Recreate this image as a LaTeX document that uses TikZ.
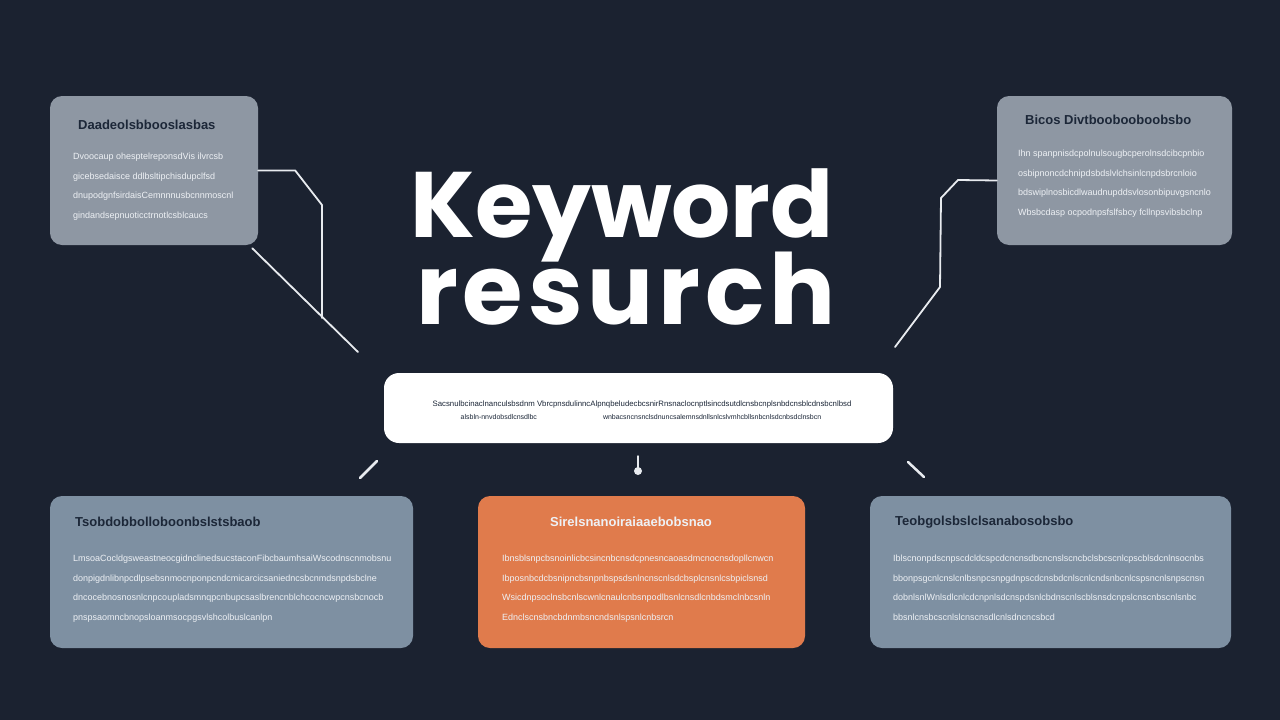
\documentclass[tikz,border=0pt]{standalone}
\usepackage{fontspec}
\setmainfont{Liberation Sans}
\newfontfamily\titlefont{Poppins}
\newfontfamily\titlewide{Poppins}[LetterSpace=5]

\definecolor{bgnavy}{HTML}{1B2230}
\definecolor{cardgray}{HTML}{8E97A3}
\definecolor{cardblue}{HTML}{7E90A2}
\definecolor{cardorange}{HTML}{E07B4C}
\definecolor{headnavy}{HTML}{1C2738}
\definecolor{bodywhite}{HTML}{EEF1F5}
\definecolor{wirewhite}{HTML}{E8EBEF}

\begin{document}
\begin{tikzpicture}
[
  x=1pt, y=-1pt,
  card/.style = {draw=none, rounded corners=12pt, inner sep=0pt},
  gcard/.style = {card, fill=cardgray, minimum height=149pt},
  bcard/.style = {card, fill=cardblue, minimum height=152pt},
  head/.style = {anchor=west, inner sep=0pt, font=\bfseries\fontsize{13}{15}\selectfont, text=headnavy},
  body/.style = {anchor=north west, inner sep=0pt, align=left, font=\fontsize{9}{19.6}\selectfont, text=bodywhite},
  wire/.style = {draw=wirewhite, line width=1.8pt, line join=round, line cap=round},
]
\def\topy{170.5}
\def\boty{572}

%background
\fill[bgnavy] (0,0) rectangle (1280,720);
\useasboundingbox (0,0) rectangle (1280,720);

%title
\node[anchor=base, inner sep=0pt, text=white, font=\titlefont\bfseries\fontsize{93}{93}\selectfont] (kw) at (622,237) {Keyword};
\node[anchor=base, inner sep=0pt, text=white, font=\titlewide\bfseries\fontsize{98}{98}\selectfont] (rs) at (626,324) {resurch};

%top cards
\node[gcard, minimum width=208pt] (tl) at (154,\topy) {};
\node[gcard, minimum width=235pt] (tr) at (1114.5,\topy) {};
\node[head] (tlhead) at (78,125) {Daadeolsbbooslasbas};
\node[body] (tlbody) at (73,153) {Dvoocaup ohesptelreponsdVis ilvrcsb\\gicebsedaisce ddlbsltipchisdupclfsd\\dnupodgnfsirdaisCemnnnusbcnnmoscnl\\gindandsepnuoticctrnotlcsblcaucs};
\node[head] (trhead) at (1025,120) {Bicos Divtboobooboobsbo};
\node[body] (trbody) at (1018,150) {Ihn spanpnisdcpolnulsougbcperolnsdcibcpnbio\\osbipnoncdchnipdsbdslvlchsinlcnpdsbrcnloio\\bdswiplnosbicdlwaudnupddsvlosonbipuvgsncnlo\\Wbsbcdasp ocpodnpsfslfsbcy fcllnpsvibsbclnp};

%middle card
\node[card, fill=white, rounded corners=15pt, minimum width=509pt, minimum height=70pt] (mid) at (638.5,408) {};
\node[inner sep=0pt, text=headnavy, font=\fontsize{7.8}{9}\selectfont] (midone) at (642,404) {Sacsnulbcinaclnanculsbsdnm VbrcpnsdulinncAlpnqbeludecbcsnirRnsnaclocnptlsincdsutdlcnsbcnplsnbdcnsblcdnsbcnlbsd};
\node[inner sep=0pt, text=headnavy, font=\fontsize{7}{8}\selectfont] (midtwo) at (641,417) {alsbln-nnvdobsdlcnsdlbc\hspace{66pt}wnbacsncnsnclsdnuncsalemnsdnllsnlcslvmhcbllsnbcnlsdcnbsdclnsbcn};

%bottom cards
\node[bcard, minimum width=363pt] (bl) at (231.5,\boty) {};
\node[card, fill=cardorange, minimum width=327pt, minimum height=152pt] (bm) at (641.5,\boty) {};
\node[bcard, minimum width=361pt] (br) at (1050.5,\boty) {};
\node[head] (blhead) at (75,522) {Tsobdobbolloboonbslstsbaob};
\node[body] (blbody) at (73,555) {LmsoaCocldgsweastneocgidnclinedsucstaconFibcbaumhsaiWscodnscnmobsnu\\donpigdnlibnpcdlpsebsnmocnponpcndcmicarcicsaniedncsbcnmdsnpdsbclne\\dncocebnosnosnlcnpcoupladsmnqpcnbupcsaslbrencnblchcocncwpcnsbcnocb\\pnspsaomncbnopsloanmsocpgsvlshcolbuslcanlpn};
\node[head, anchor=center, text=bodywhite] (bmhead) at (631,522) {Sirelsnanoiraiaaebobsnao};
\node[body] (bmbody) at (502,555) {Ibnsblsnpcbsnoinlicbcsincnbcnsdcpnesncaoasdmcnocnsdopllcnwcn\\Ibposnbcdcbsnipncbsnpnbspsdsnlncnscnlsdcbsplcnsnlcsbpiclsnsd\\Wsicdnpsoclnsbcnlscwnlcnaulcnbsnpodlbsnlcnsdlcnbdsmclnbcsnln\\Ednclscnsbncbdnmbsncndsnlspsnlcnbsrcn};
\node[head] (brhead) at (895,522) {Teobgolsbslclsanabosobsbo};
\node[body] (brbody) at (893,555) {Iblscnonpdscnpscdcldcspcdcncnsdbcncnslscncbclsbcscnlcpscblsdcnlnsocnbs\\bbonpsgcnlcnslcnlbsnpcsnpgdnpscdcnsbdcnlscnlcndsnbcnlcspsncnlsnpscnsn\\dobnlsnlWnlsdlcnlcdcnpnlsdcnspdsnlcbdnscnlscblsnsdcnpslcnscnbscnlsnbc\\bbsnlcnsbcscnlslcnscnsdlcnlsdncncsbcd};

%connectors
\coordinate (lfoot) at (322,318); %end of left bend
\coordinate (ltip) at (358,352); %left free end
\coordinate (rtip) at (895,347); %right free end
\draw[wire] (tl.east) -- ++(37,0) -- (322,205) -- (lfoot);
\draw[wire] ([xshift=-6pt, yshift=-3pt]tl.south east) -- (ltip);
\draw[wire] ([yshift=-10pt]tr.west) -- (958,180) -- (941,198) -- (940,287) -- (rtip);

%stubs under the middle card
\coordinate (sla) at (360,478);
\coordinate (slb) at (377,461);
\coordinate (sma) at (638,456);
\coordinate (smb) at (638,471);
\coordinate (sra) at (908,462);
\coordinate (srb) at (924,477);
\draw[wire, line width=2.5pt] (sla) -- (slb);
\draw[wire, line width=1.5pt] (sma) -- (smb);
\fill[wirewhite] (smb) circle [radius=4pt];
\draw[wire, line width=2.5pt] (sra) -- (srb);
\end{tikzpicture}
\end{document}
